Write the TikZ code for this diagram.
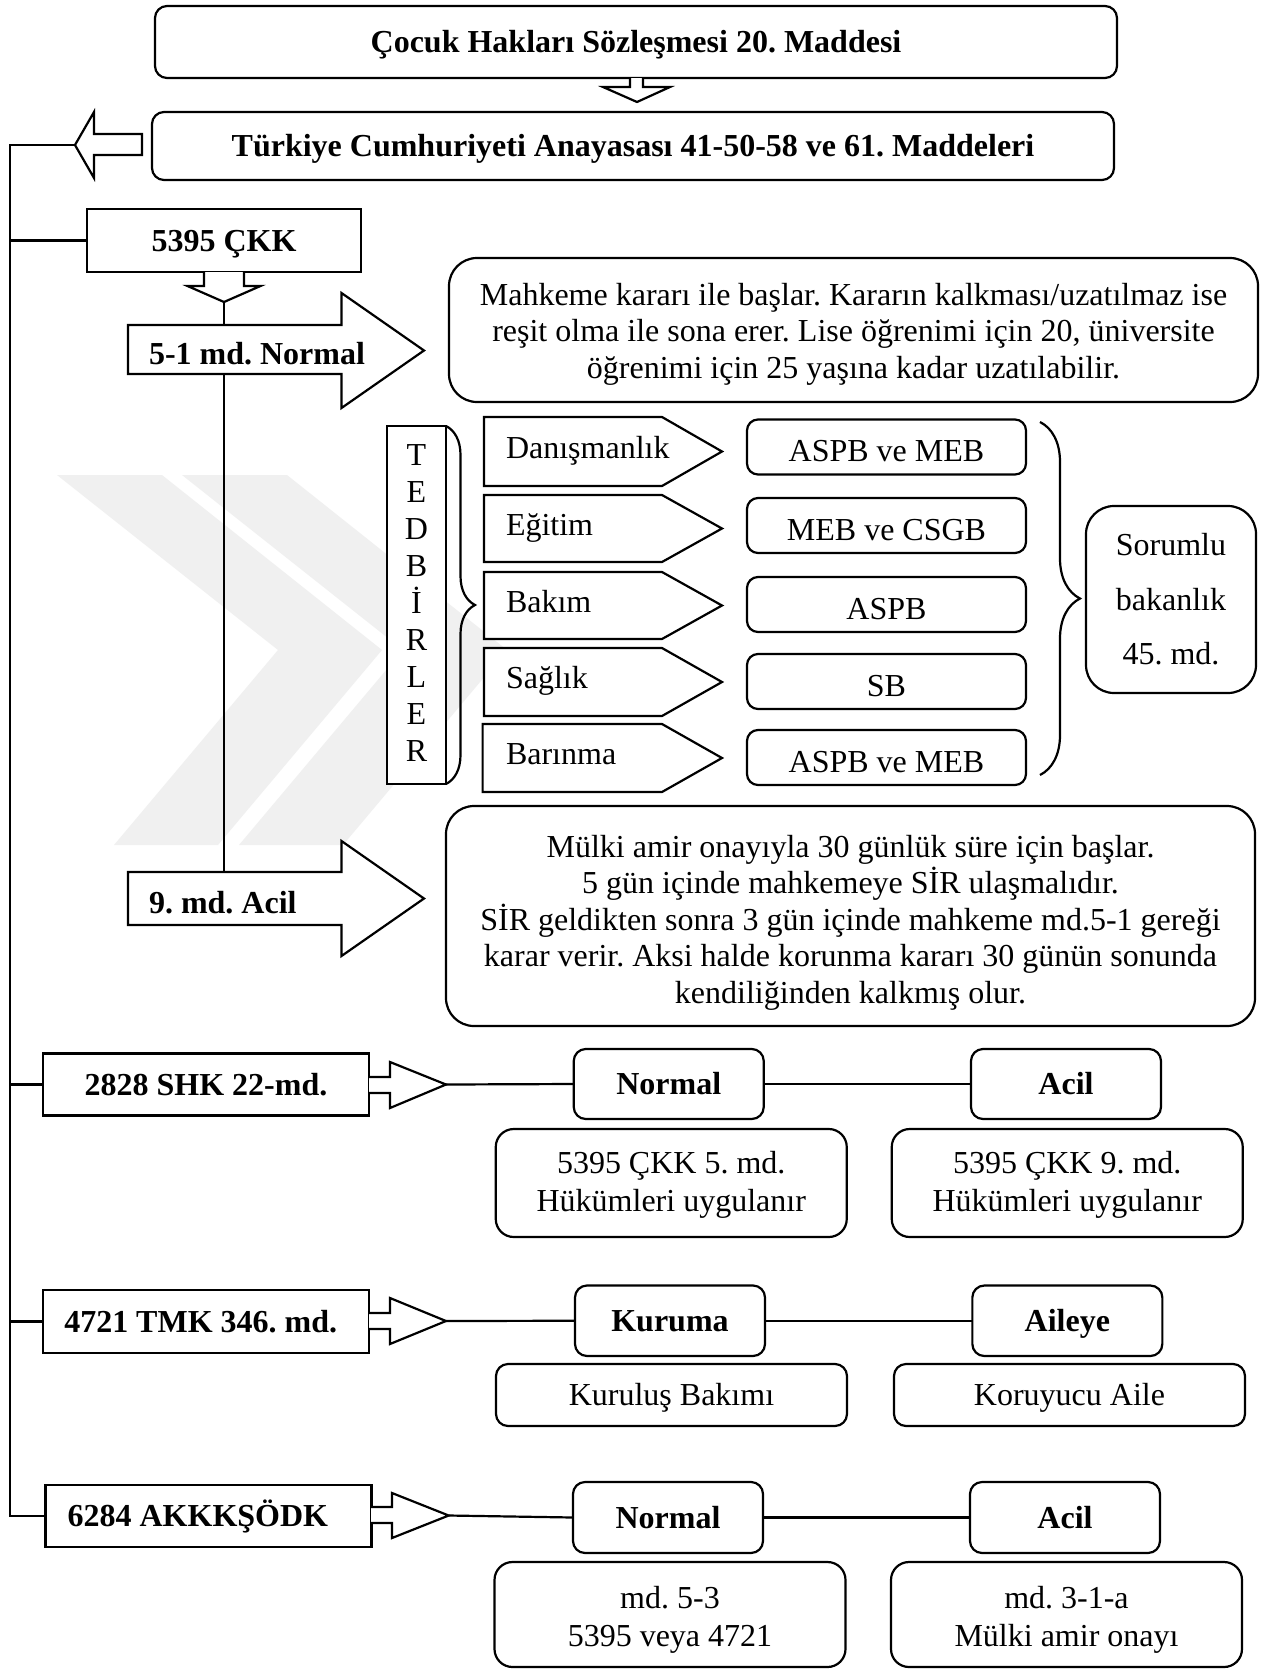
\documentclass[tikz,border=0pt]{standalone}
\usepackage{fontspec}
\setmainfont{Liberation Serif}
\frenchspacing
\usetikzlibrary{calc,decorations.pathreplacing}
\begin{document}
\begin{tikzpicture}[x=0.5pt,y=-0.5pt,
  line width=1.1pt,
  every node/.style={inner sep=0pt, outer sep=0pt},
  f/.style={font=\fontsize{16}{18.25}\selectfont},
  fb/.style={font=\bfseries\fontsize{16}{18.25}\selectfont},
  one/.style={text height=10.6pt, text depth=0pt},
  rbox/.style={draw, rounded corners=6pt, fill=white},
  sbox/.style={draw, fill=white},
  wm/.style={fill=black!6, draw=none},
  blk/.style={draw, fill=white, line join=miter},
  brc/.style={decorate, decoration={brace, amplitude=#1, aspect=0.5}}
]
\useasboundingbox (0,0) rectangle (1269,1670);
\fill[white] (0,0) rectangle (1269,1670);

% watermark (faint)
\path[wm] (57,475) -- (162,475) -- (382,650) -- (218,845) -- (114,845) -- (278,650) -- cycle;
\path[wm] (182,475) -- (287,475) -- (507,650) -- (343,845) -- (239,845) -- (403,650) -- cycle;

% top boxes
\node[rbox, fb, one, minimum width=481pt, minimum height=36pt] (top) at (636,42) {Çocuk Hakları Sözleşmesi 20. Maddesi};
\node[rbox, fb, one, minimum width=481pt, minimum height=34pt] (anay) at (633,146) {Türkiye Cumhuriyeti Anayasası 41-50-58 ve 61. Maddeleri};

% down block arrow between top boxes
\draw[blk] ($(top.south)+(-6,0)$) -- ($(top.south)+(-6,9)$) -- ($(top.south)+(-33,9)$) -- ($(top.south)+(1,24)$) -- ($(top.south)+(34,9)$) -- ($(top.south)+(7,9)$) -- ($(top.south)+(7,0)$);

% left block arrow
\draw[blk] ($(anay.west)+(-10,-12)$) -- ($(anay.west)+(-58,-12)$) -- ($(anay.west)+(-58,-34)$) -- ($(anay.west)+(-77,-1)$) -- ($(anay.west)+(-58,32)$) -- ($(anay.west)+(-58,9)$) -- ($(anay.west)+(-10,9)$) -- cycle;
\coordinate (lt) at ($(anay.west)+(-77,-1)$);
\coordinate (trunkTop) at (10,145);
\coordinate (trunkBot) at (10,1516);

% 5395 CKK
\node[sbox, fb, one, minimum width=137pt, minimum height=31.5pt] (ckk) at (224,240.5) {5395 ÇKK};
\draw[blk] ($(ckk.south)+(-20,0)$) -- ($(ckk.south)+(-20,14)$) -- ($(ckk.south)+(-36.5,14)$) -- ($(ckk.south)+(0,30)$) -- ($(ckk.south)+(36.5,14)$) -- ($(ckk.south)+(20,14)$) -- ($(ckk.south)+(20,0)$);
\coordinate (ckkTip) at ($(ckk.south)+(0,30)$);

% 5-1 md. Normal block arrow
\draw[blk] (128,325) -- (341.5,325) -- (341.5,293) -- (424,350.5) -- (341.5,408) -- (341.5,374) -- (128,374) -- cycle;
\node[fb, one, anchor=west] (t51) at (149,354) {5-1 md. Normal};
\coordinate (n51top) at (224,325);
\coordinate (n51bot) at (224,374);

% 9. md. Acil block arrow
\draw[blk] (128,872) -- (341.5,872) -- (341.5,841) -- (424,898.5) -- (341.5,956) -- (341.5,925) -- (128,925) -- cycle;
\node[fb, one, anchor=west] (t9) at (149,903) {9. md. Acil};
\coordinate (acilTop) at (224,872);

\draw (ckkTip) -- (n51top);
\draw (n51bot) -- (acilTop);

% Mahkeme box
\node[rbox, rounded corners=14pt, minimum width=404.5pt, minimum height=72pt] (mah) at (853.5,330) {};
\node[f, align=center, yshift=-2.15pt] (maht) at (mah.center)
 {Mahkeme kararı ile başlar. Kararın kalkması/uzatılmaz ise\\reşit olma ile sona erer. Lise öğrenimi için 20, üniversite\\öğrenimi için 25 yaşına kadar uzatılabilir.};

% TEDBIRLER
\node[sbox, minimum width=29.5pt, minimum height=179pt] (ted) at (416.5,605) {};
\node[align=center, font=\fontsize{16}{18.5}\selectfont] (tedt) at (416.5,603) {T\\E\\D\\B\\İ\\R\\L\\E\\R};
\draw[brc=14.5pt] (ted.north east) -- (ted.south east);

% pentagon arrows
\foreach \y/\b/\l/\t [count=\i] in {417/486/484/Danışmanlık, 495/562/484/Eğitim, 572/639/484/Bakım, 648/716/484/Sağlık, 724/792/482.6/Barınma}{
  \draw[blk] (\l,\y) -- (662,\y) -- (722,{(\y+\b)/2}) -- (662,\b) -- (\l,\b) -- cycle;
  \node[f, one, anchor=west] (p\i) at (506,{(\y+\b)/2-4}) {\t};
}

% responsible boxes
\tikzset{mb/.style={rbox, rounded corners=5.5pt, f, text height=14.9pt, text depth=0pt, minimum width=139.5pt, minimum height=27.5pt}}
\node[mb] (m1) at (886.5,447) {ASPB ve MEB};
\node[mb] (m2) at (886.5,525.5) {MEB ve CSGB};
\node[mb] (m3) at (886.5,604.5) {ASPB};
\node[mb] (m4) at (886.5,681.5) {SB};
\node[mb] (m5) at (886.5,757.5) {ASPB ve MEB};

\draw[brc=20pt] (1040,422) -- (1040,775);

\node[rbox, rounded corners=14pt, align=center, font=\fontsize{16}{27.25}\selectfont, minimum width=85pt, minimum height=93.5pt] (sor) at (1171,599.5) {Sorumlu\\bakanlık\\45. md.};

% Mulki box
\node[rbox, rounded corners=14pt, minimum width=404.5pt, minimum height=110pt] (mul) at (850.5,916) {};
\node[f, align=center, yshift=-3.2pt] (mult) at (mul.center)
 {Mülki amir onayıyla 30 günlük süre için başlar.\\5 gün içinde mahkemeye SİR ulaşmalıdır.\\SİR geldikten sonra 3 gün içinde mahkeme md.5-1 gereği\\karar verir. Aksi halde korunma kararı 30 günün sonunda\\kendiliğinden kalkmış olur.};

% lower rows
\tikzset{
  lawbox/.style={sbox, fb, one, minimum width=163pt, minimum height=31pt},
  hb/.style={rbox, fb, one, minimum width=95pt, minimum height=35pt},
  db/.style={rbox, rounded corners=9pt, minimum width=175.5pt, minimum height=54pt},
  dt/.style={align=center, font=\fontsize{16}{19}\selectfont},
  sb1/.style={rbox, f, one, minimum width=175.5pt, minimum height=31pt}
}

% 2828
\node[lawbox] (shk) at (206,1084.5) {2828 SHK 22-md.};
\draw[blk] (369,1077) -- (390,1077) -- (390,1062) -- (446,1084.5) -- (390,1108) -- (390,1093) -- (369,1093);
\coordinate (shkTip) at (446,1084.5);
\node[hb] (nor1) at (668.75,1084) {Normal};
\node[hb] (acl1) at (1066,1084) {Acil};
\node[db] (d5) at (671.25,1183) {};
\node[dt, yshift=-1pt] (d5t) at (d5.center) {5395 ÇKK 5. md.\\Hükümleri uygulanır};
\node[db] (d9) at (1067.25,1183) {};
\node[dt, yshift=-1pt] (d9t) at (d9.center) {5395 ÇKK 9. md.\\Hükümleri uygulanır};
\draw (shkTip) -- (nor1.west);
\draw (nor1.east) -- (acl1.west);

% 4721
\node[lawbox, minimum height=31.5pt] (tmk) at (206,1321.5) {\kern-5.3pt 4721 TMK 346. md.};
\draw[blk] (369,1313) -- (390,1313) -- (390,1298) -- (446,1321) -- (390,1344) -- (390,1329) -- (369,1329);
\coordinate (tmkTip) at (446,1321);
\node[hb, minimum height=35.25pt] (kur) at (670,1320.75) {Kuruma};
\node[hb, minimum height=35.25pt] (ail) at (1067.35,1320.75) {Aileye};
\node[sb1] (kb) at (671.5,1395) {Kuruluş Bakımı};
\node[sb1] (ka) at (1069.5,1395) {Koruyucu Aile};
\draw (tmkTip) -- (kur.west);
\draw (kur.east) -- (ail.west);

% 6284
\node[lawbox] (akk) at (208.5,1516) {\kern-10.6pt 6284 AKKKŞÖDK};
\draw[blk] (371,1507) -- (392,1507) -- (392,1493) -- (448.7,1515.5) -- (392,1538) -- (392,1523) -- (371,1523);
\coordinate (akkTip) at (448.7,1515.5);
\node[hb, minimum height=35.5pt] (nor3) at (668,1517.5) {Normal};
\node[hb, minimum height=35.5pt] (acl3) at (1065,1517.5) {Acil};
\node[db, minimum height=52.5pt] (d53) at (670,1614.5) {};
\node[dt, font=\fontsize{16}{18.75}\selectfont, yshift=-2.65pt] (d53t) at (d53.center) {md. 5-3\\5395 veya 4721};
\node[db, minimum height=52.5pt] (d31) at (1066.5,1614.5) {};
\node[dt, font=\fontsize{16}{18.75}\selectfont, yshift=-2.65pt] (d31t) at (d31.center) {md. 3-1-a\\Mülki amir onayı};
\draw (akkTip) -- (nor3.west);
\draw (nor3.east) -- (acl3.west);

% trunk
\draw (lt) -- (trunkTop) -- (trunkBot) -- (akk.west);
\draw (ckk.west) -- (ckk.west -| trunkTop);
\draw (shk.west) -- (shk.west -| trunkTop);
\draw (tmk.west) -- (tmk.west -| trunkTop);
\end{tikzpicture}
\end{document}
